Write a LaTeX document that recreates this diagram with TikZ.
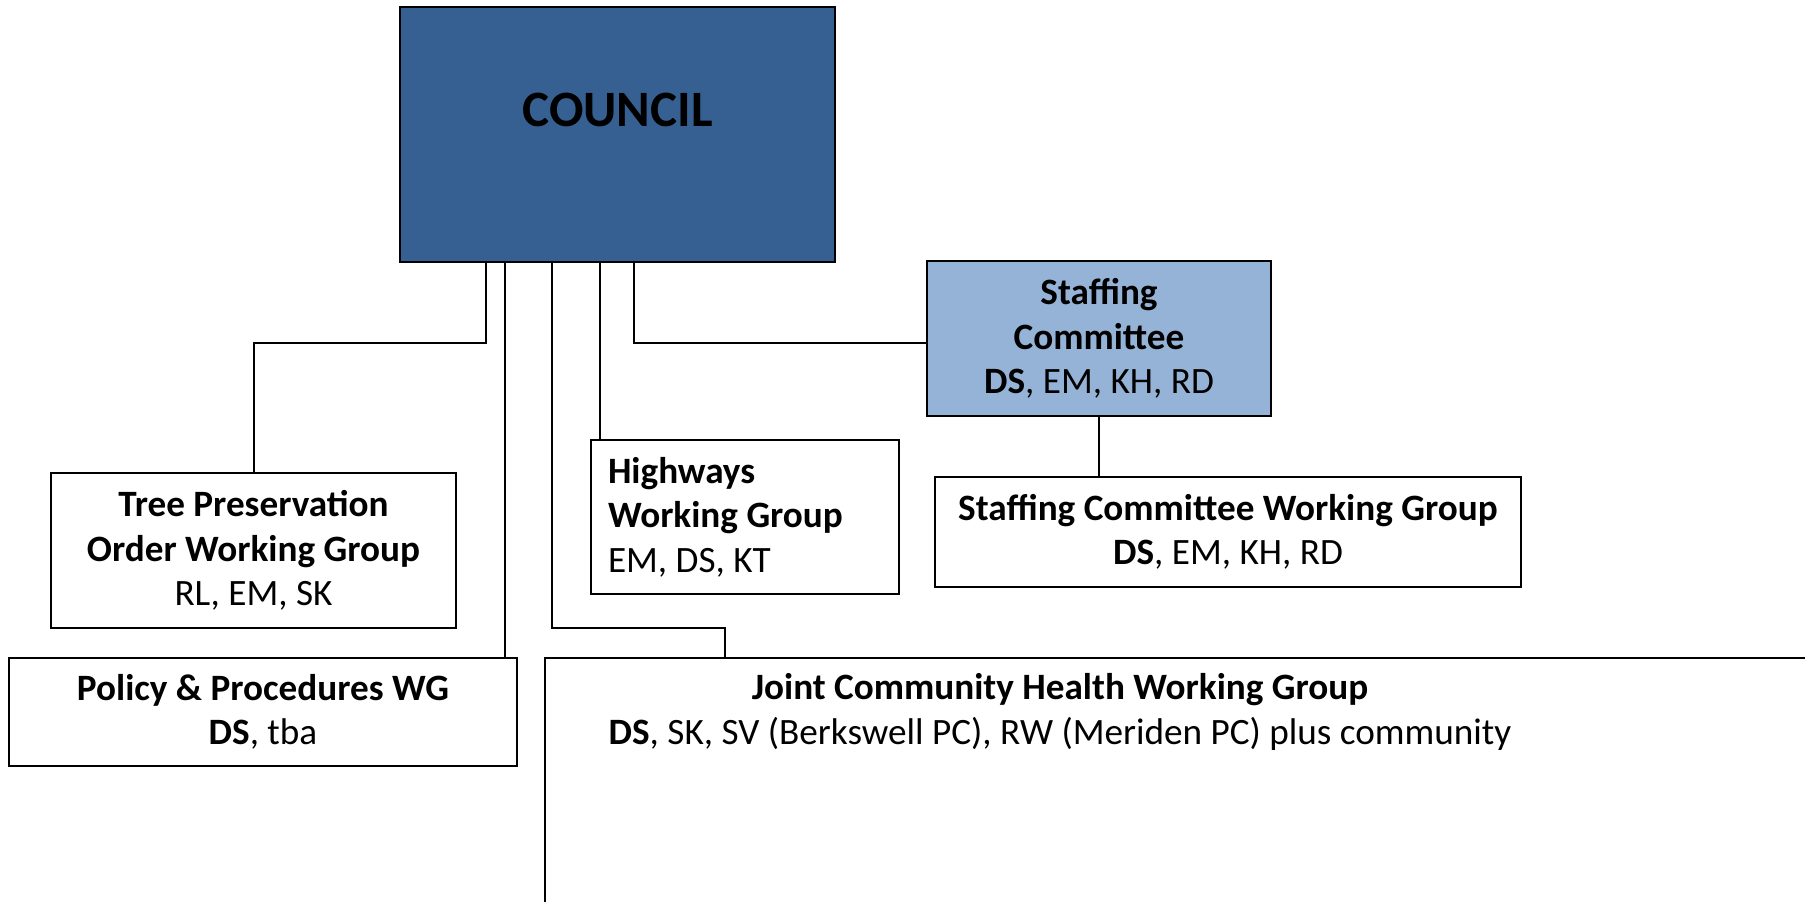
\documentclass[tikz,border=0pt]{standalone}
\usepackage{fontspec}
\setmainfont{Carlito}
\definecolor{councilblue}{RGB}{54,96,146}
\definecolor{staffblue}{RGB}{149,179,215}
\tikzset{
  orgbox/.style={draw=black, line width=1.2pt, fill=white, inner sep=0pt, align=center,
    font=\fontsize{18.6}{22.2}\selectfont},
  link/.style={draw=black, line width=1pt},
}
\begin{document}
\begin{tikzpicture}[x=0.5pt, y=-0.5pt]
\useasboundingbox (0,0) rectangle (1805,901);
\clip (0,0) rectangle (1805,901);
\fill[white] (0,0) rectangle (1805,901);

% boxes
\node[orgbox, fill=councilblue, minimum width=217.5pt, minimum height=127.5pt,
      font=\fontsize{25.5}{30}\selectfont\bfseries, text depth=25pt] (council) at (617.5,134.5) {COUNCIL};
\node[orgbox, fill=staffblue, minimum width=172pt, minimum height=77.5pt] (stf) at (1099,338.5)
  {\textbf{Staffing}\\\textbf{Committee}\\\textbf{DS}, EM, KH, RD};
\node[orgbox, minimum width=202.5pt, minimum height=77.5pt] (tree) at (253.5,550.5)
  {\textbf{Tree Preservation}\\\textbf{Order Working Group}\\RL, EM, SK};
\node[orgbox, align=flush left, text width=137pt, inner xsep=8.5pt, minimum height=77pt] (hw) at (745,517)
  {\textbf{Highways}\\\textbf{Working Group}\\EM, DS, KT};
\node[orgbox, minimum width=293pt, minimum height=55pt] (scwg) at (1228,532)
  {\textbf{Staffing Committee Working Group}\\\textbf{DS}, EM, KH, RD};
\node[orgbox, minimum width=254pt, minimum height=54pt] (pol) at (263,712)
  {\textbf{Policy \& Procedures WG}\\\textbf{DS}, tba};
\node[orgbox, minimum width=642.5pt, minimum height=136pt] (joint) at (1187.5,794) {};
\node[align=center, inner sep=0pt, font=\fontsize{18.6}{22.2}\selectfont] (jointtxt) at (1060,712)
  {\textbf{Joint Community Health Working Group}\\\textbf{DS}, SK, SV (Berkswell PC), RW (Meriden PC) plus community};

% connector coordinates
\coordinate (c1) at (486,343);
\coordinate (c2) at (505,0);
\coordinate (c3) at (552,628);
\coordinate (c3b) at (725,628);
\coordinate (c4) at (600,0);
\coordinate (c5) at (634,343);

% connectors
\draw[link] (council.south -| c1) -- (c1) -- (c1 -| tree.north) -- (tree.north);
\draw[link] (council.south -| c2) -- (pol.north -| c2);
\draw[link] (council.south -| c3) -- (c3) -- (c3b) -- (joint.north -| c3b);
\draw[link] (council.south -| c4) -- (hw.north -| c4);
\draw[link] (council.south -| c5) -- (c5) -- (c5 -| stf.west);
\draw[link] (stf.south) -- (stf.south |- scwg.north);
\end{tikzpicture}
\end{document}
